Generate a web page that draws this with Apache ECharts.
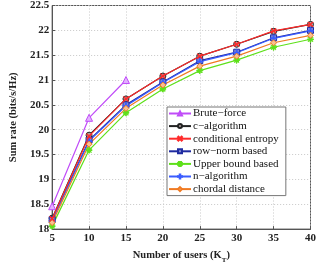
<!DOCTYPE html>
<html><head><meta charset="utf-8">
<script src="https://cdn.jsdelivr.net/npm/echarts@6/dist/echarts.min.js"></script>
<style>html,body{margin:0;padding:0;background:#fff}#c{width:319px;height:269px}</style>
</head><body><div id="c"></div>
<script>
const usersX = [5, 10, 15, 20, 25, 30, 35, 40];
const bruteForce = [18.46, 20.24, 21.0];
const cAlgorithm = [18.22, 19.89, 20.62, 21.08, 21.48, 21.72, 21.98, 22.12];
const condEntropy = [18.21, 19.87, 20.62, 21.08, 21.48, 21.72, 21.99, 22.12];
const rowNorm = [18.19, 19.79, 20.50, 20.96, 21.39, 21.56, 21.85, 22.00];
const upperBound = [18.06, 19.59, 20.34, 20.82, 21.19, 21.40, 21.66, 21.82];
const nAlgorithm = [18.17, 19.77, 20.48, 20.95, 21.37, 21.55, 21.84, 21.99];
const chordal = [18.13, 19.71, 20.43, 20.90, 21.28, 21.48, 21.75, 21.90];
const seriesNames = ['Brute\u2212force','c\u2212algorithm','conditional entropy','row\u2212norm based','Upper bound based','n\u2212algorithm','chordal distance'];

const FONT = '"Liberation Serif","DejaVu Serif",serif';
const xMark = 'path://M0,1L1,0L5,4L9,0L10,1L6,5L10,9L9,10L5,6L1,10L0,9L4,5Z';
const plusMark = 'path://M4.3,0H5.7V4.3H10V5.7H5.7V10H4.3V5.7H0V4.3H4.3Z';
const starMark = 'path://M4.4,0H5.6V3.6L8.2,1L9,1.8L6.4,4.4H10V5.6H6.4L9,8.2L8.2,9L5.6,6.4V10H4.4V6.4L1.8,9L1,8.2L3.6,5.6H0V4.4H3.6L1,1.8L1.8,1L4.4,3.6Z';

function pairs(vals){ return vals.map((v,i)=>[usersX[i], v]); }
function mk(name, vals, color, symbol, size, extra){
  return Object.assign({
    name, type:'line', data: pairs(vals), symbol, symbolSize: size,
    lineStyle:{color, width:1.2}, itemStyle:{color, borderColor:color, borderWidth:1},
    color, animation:false, z:2
  }, extra||{});
}
const chart = echarts.init(document.getElementById('c'), null, {renderer:'canvas'});
chart.setOption({
  animation:false,
  grid:{left:33, right:2, top:3, bottom:27, show:true, borderColor:'#555', borderWidth:1},
  xAxis:{type:'value', min:5, max:40, interval:5,
    name:'Number of users (K{s|T})', nameLocation:'middle', nameGap:10,
    nameTextStyle:{fontFamily:FONT, fontSize:10.5, fontWeight:'bold', color:'#222', lineHeight:12,
      rich:{s:{fontFamily:FONT, fontSize:7, fontWeight:'bold', color:'#222', lineHeight:12, verticalAlign:'bottom', padding:[0,0,-3,0]}}},
    axisLine:{lineStyle:{color:'#555'}}, axisTick:{inside:true, length:3, lineStyle:{color:'#555'}},
    axisLabel:{fontFamily:FONT, fontSize:11, fontWeight:'bold', color:'#222', margin:4},
    splitLine:{lineStyle:{color:'#c8c8c8', type:[1,2], width:1}}},
  yAxis:{type:'value', min:18, max:22.5, interval:0.5,
    name:'Sum rate (bits/s/Hz)', nameLocation:'middle', nameGap:24,
    nameTextStyle:{fontFamily:FONT, fontSize:10.5, fontWeight:'bold', color:'#222'},
    axisLine:{lineStyle:{color:'#555'}}, axisTick:{inside:true, length:3, lineStyle:{color:'#555'}},
    axisLabel:{fontFamily:FONT, fontSize:11, fontWeight:'bold', color:'#222', margin:3,
      formatter:v=>String(v)},
    splitLine:{lineStyle:{color:'#c8c8c8', type:[1,2], width:1}}},
  legend:{orient:'vertical', left:167, top:107, padding:[1,7,1,1], itemGap:1.6,
    itemWidth:22, itemHeight:5, backgroundColor:'#fff', borderColor:'#777', borderWidth:1, borderRadius:0,
    textStyle:{fontFamily:FONT, fontSize:11, color:'#111', lineHeight:11, padding:[0,0,0,-3]},
    data: seriesNames},
  series:[
    mk(seriesNames[0], bruteForce, '#c04cf8', 'triangle', 7, {itemStyle:{color:'#e2b0ff', borderColor:'#c04cf8', borderWidth:1}}),
    mk(seriesNames[1], cAlgorithm, '#222222', 'circle', 6, {itemStyle:{color:'#b0a0a0', borderColor:'#222', borderWidth:1}}),
    mk(seriesNames[2], condEntropy, '#ff2a2a', xMark, 5, {z:3}),
    mk(seriesNames[3], rowNorm, '#1f2aa0', 'rect', 6, {itemStyle:{color:'#8088d0', borderColor:'#1f2aa0', borderWidth:1}}),
    mk(seriesNames[4], upperBound, '#5ee01a', starMark, 6),
    mk(seriesNames[5], nAlgorithm, '#3a5cff', plusMark, 6),
    mk(seriesNames[6], chordal, '#f07a22', 'diamond', 6, {itemStyle:{color:'#f8c090', borderColor:'#f07a22', borderWidth:1}})
  ]
});
</script></body></html>
